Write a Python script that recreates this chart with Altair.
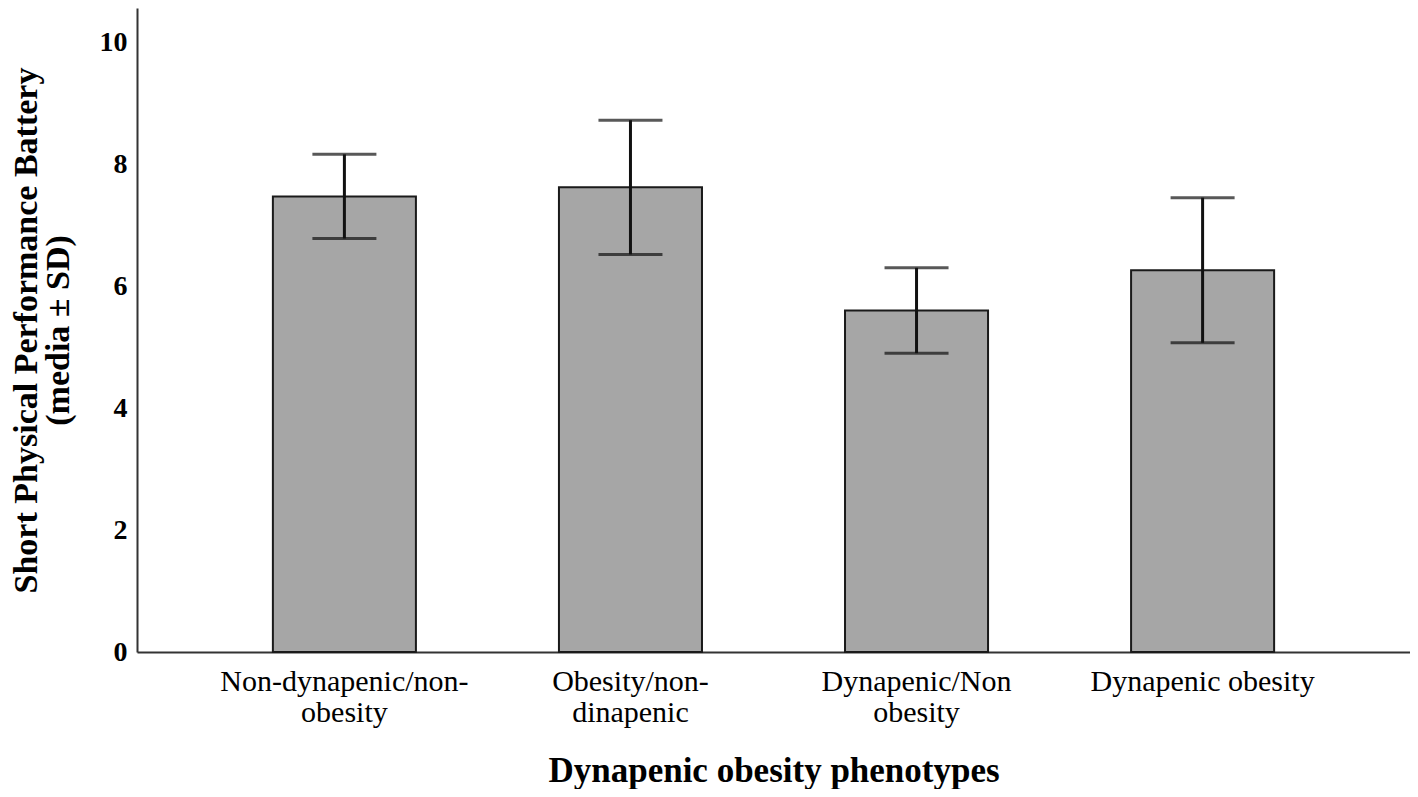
import altair as alt
import pandas as pd

categories = ["Non-dynapenic/non-obesity", "Obesity/non-dinapenic", "Dynapenic/Non obesity", "Dynapenic obesity"]
label_lines = [["Non-dynapenic/non-", "obesity"], ["Obesity/non-", "dinapenic"], ["Dynapenic/Non", "obesity"], ["Dynapenic obesity"]]
means = [7.47, 7.62, 5.60, 6.26]
sds = [0.69, 1.10, 0.70, 1.19]
y_ticks = [0, 2, 4, 6, 8, 10]

df = pd.DataFrame({
    "group": categories,
    "mean": means,
    "lo": [m - s for m, s in zip(means, sds)],
    "hi": [m + s for m, s in zip(means, sds)],
})

parts = []
for c, lines in zip(categories, label_lines):
    arr = "[" + ",".join("'" + l + "'" for l in lines) + "]"
    parts.append(f"datum.label == '{c}' ? {arr} : ")
label_expr = "".join(parts) + "datum.label"

FONT = "Liberation Serif"

x = alt.X("group:N", sort=categories,
          scale=alt.Scale(paddingInner=0.5, paddingOuter=0.475),
          axis=alt.Axis(title="Dynapenic obesity phenotypes", labelAngle=0,
                        labelExpr=label_expr, labelFontSize=30, labelFont=FONT,
                        labelFontWeight="normal", labelColor="black", labelLineHeight=31,
                        labelPadding=14, labelLimit=0, ticks=False,
                        domainColor="#333333", domainWidth=2,
                        titleFont=FONT, titleFontSize=35, titleFontWeight="bold",
                        titleColor="black", titlePadding=26))
y_scale = alt.Scale(domain=[0, 10.56], nice=False)

bars = alt.Chart(df).mark_bar(color="#a6a6a6", stroke="#1a1a1a", strokeWidth=2).encode(
    x=x,
    y=alt.Y("mean:Q", scale=y_scale,
            axis=alt.Axis(title=["Short Physical Performance Battery", "(media ± SD)"],
                          values=y_ticks, format="d", grid=False, ticks=False,
                          labelFontSize=28, labelFont=FONT, labelFontWeight="bold",
                          labelColor="black", labelPadding=10, domainColor="#333333",
                          domainWidth=2, titleFont=FONT, titleFontSize=34,
                          titleFontWeight="bold", titleColor="black", titlePadding=24,
                          titleLineHeight=32)),
)

rules = alt.Chart(df).mark_rule(color="#111111", strokeWidth=3).encode(
    x=alt.X("group:N", sort=categories),
    y=alt.Y("lo:Q", scale=y_scale),
    y2="hi:Q",
)

caps_lo = alt.Chart(df).mark_tick(color="#111111", thickness=3, size=64, orient="horizontal").encode(
    x=alt.X("group:N", sort=categories),
    y=alt.Y("lo:Q", scale=y_scale),
)
caps_hi = alt.Chart(df).mark_tick(color="#111111", thickness=3, size=64, orient="horizontal").encode(
    x=alt.X("group:N", sort=categories),
    y=alt.Y("hi:Q", scale=y_scale),
)

chart = alt.layer(bars, rules, caps_lo, caps_hi).properties(
    width=1273, height=644,
    background="white",
    autosize=alt.AutoSizeParams(type="none"),
    padding={"left": 129, "top": 0, "right": 0, "bottom": 137},
).configure_view(stroke=None)

chart.save("out.html", embed_options={"renderer": "svg", "actions": False})
